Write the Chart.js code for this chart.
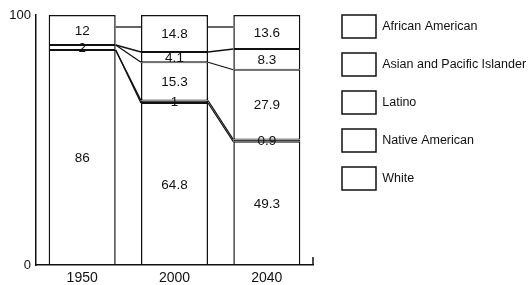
<!DOCTYPE html>
<html>
<head>
<meta charset="utf-8">
<script src="https://cdn.jsdelivr.net/npm/chart.js@4"></script>
<style>
  html, body { margin: 0; padding: 0; background: #fff; }
  #wrap { width: 531px; height: 285px; position: relative; }
</style>
</head>
<body>
<div id="wrap"><canvas id="chart"></canvas></div>
<script>
(function () {
  "use strict";

  const years = ["1950", "2000", "2040"];
  const white = [86, 64.8, 49.3];
  const nativeAmerican = [0, 1, 0.9];
  const latino = [2, 15.3, 27.9];
  const asianPacific = [0, 4.1, 8.3];
  const africanAmerican = [12, 14.8, 13.6];
  // the top link between bars sits a little under the 100 line in the original
  const topLinkLevel = 95.2;

  const ink = "#111";
  Chart.defaults.font.family = '"Liberation Sans", Arial, sans-serif';
  Chart.defaults.color = ink;

  function series(label, data, extra) {
    return Object.assign({
      label,
      data,
      backgroundColor: "#fff",
      borderColor: ink,
      borderWidth: { top: 1, bottom: 1, left: 1.5, right: 1.5 },
      borderSkipped: false,
      barPercentage: 0.726,
      categoryPercentage: 1,
    }, extra || {});
  }

  // lines joining each segment top to the same segment in the next bar
  const connectors = {
    id: "connectors",
    afterDatasetsDraw(chart) {
      const ctx = chart.ctx;
      const y = chart.scales.y;
      const last = chart.data.datasets.length - 1;
      ctx.save();
      ctx.strokeStyle = ink;
      ctx.lineWidth = 1.3;
      chart.data.datasets.forEach((ds, i) => {
        const bars = chart.getDatasetMeta(i).data;
        for (let j = 0; j < bars.length - 1; j++) {
          const a = bars[j], b = bars[j + 1];
          let y1 = a.y, y2 = b.y;
          if (i === last) y1 = y2 = y.getPixelForValue(topLinkLevel);
          ctx.beginPath();
          ctx.moveTo(a.x + a.width / 2, y1);
          ctx.lineTo(b.x - b.width / 2, y2);
          ctx.stroke();
        }
      });
      ctx.restore();
    },
  };

  const segmentLabels = {
    id: "segmentLabels",
    afterDatasetsDraw(chart) {
      const ctx = chart.ctx;
      ctx.save();
      ctx.fillStyle = ink;
      ctx.font = '13.5px "Liberation Sans", Arial, sans-serif';
      ctx.textAlign = "center";
      ctx.textBaseline = "middle";
      chart.data.datasets.forEach((ds, i) => {
        chart.getDatasetMeta(i).data.forEach((bar, j) => {
          const v = ds.data[j];
          if (!v) return;
          ctx.fillText(String(v), bar.x, (bar.y + bar.base) / 2 + 1);
        });
      });
      ctx.restore();
    },
  };

  const axisEndTick = {
    id: "axisEndTick",
    afterDraw(chart) {
      const { ctx, chartArea } = chart;
      ctx.save();
      ctx.strokeStyle = ink;
      ctx.lineWidth = 1.5;
      ctx.beginPath();
      ctx.moveTo(chartArea.right, chartArea.bottom);
      ctx.lineTo(chartArea.right, chartArea.bottom - 8);
      ctx.stroke();
      ctx.restore();
    },
  };

  // legend gets a fixed width so the plot ends where the original does
  const legendWidth = {
    id: "legendWidth",
    beforeLayout(chart) {
      const lg = chart.legend;
      if (lg && !lg._fixedWidth) {
        const fit = lg.fit;
        lg.fit = function () {
          fit.call(this);
          this.width = 204;
        };
        lg._fixedWidth = true;
      }
    },
  };

  new Chart(document.getElementById("chart"), {
    type: "bar",
    data: {
      labels: years,
      datasets: [
        series("White", white),
        series("Native American", nativeAmerican, { backgroundColor: ink }),
        series("Latino", latino),
        series("Asian and Pacific Islander", asianPacific),
        series("African American", africanAmerican, {
          borderWidth: { top: 1.5, bottom: 1, left: 1.5, right: 1.5 },
        }),
      ],
    },
    options: {
      responsive: true,
      maintainAspectRatio: false,
      animation: false,
      layout: { padding: 0 },
      plugins: {
        tooltip: { enabled: false },
        legend: {
          position: "right",
          align: "start",
          reverse: true,
          labels: {
            boxWidth: 34,
            boxHeight: 23,
            padding: 15,
            color: ink,
            font: { size: 12.5 },
            generateLabels(chart) {
              const base = Chart.defaults.plugins.legend.labels.generateLabels(chart);
              return base.map((item) => Object.assign(item, { fillStyle: "#fff", strokeStyle: ink, lineWidth: 1.5 }));
            },
          },
        },
      },
      scales: {
        x: {
          stacked: true,
          grid: { display: false, drawTicks: false },
          border: { display: true, color: ink, width: 1.5 },
          ticks: { padding: 5, font: { size: 14 }, color: ink },
          afterFit(s) { s.height = 20; },
        },
        y: {
          stacked: true,
          min: 0,
          max: 100,
          grid: { display: false, drawTicks: false },
          border: { display: true, color: ink, width: 1.5 },
          ticks: { stepSize: 100, padding: 5, font: { size: 13 }, color: ink },
          afterFit(s) { s.width = 36; s.paddingTop = 15; },
        },
        gap: {
          type: "linear",
          position: "right",
          display: true,
          grid: { display: false, drawTicks: false },
          border: { display: false },
          ticks: { display: false },
          afterFit(s) { s.width = 14; },
        },
      },
    },
    plugins: [connectors, segmentLabels, axisEndTick, legendWidth],
  });
})();
</script>
</body>
</html>
